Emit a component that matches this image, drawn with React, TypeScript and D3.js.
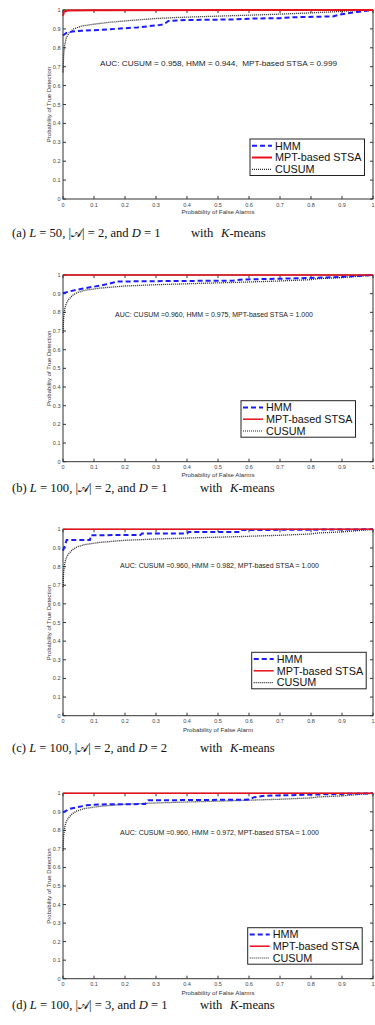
import React from 'react';
import * as d3 from 'd3';

// tick values shared by all four panels
const xTicks = [0, 0.1, 0.2, 0.3, 0.4, 0.5, 0.6, 0.7, 0.8, 0.9, 1];
const yTicks = [0, 0.1, 0.2, 0.3, 0.4, 0.5, 0.6, 0.7, 0.8, 0.9, 1];
const tickLabels = ['0', '0.1', '0.2', '0.3', '0.4', '0.5', '0.6', '0.7', '0.8', '0.9', '1'];

const seriesNames = ['HMM', 'MPT-based STSA', 'CUSUM'];

// (a) L = 50
const mptA = [[0, 0.97], [0.003, 0.99], [0.015, 0.997], [0.1, 0.999], [1, 1]];
const hmmA = [[0, 0.865], [0.01, 0.878], [0.03, 0.886], [0.06, 0.89], [0.12, 0.895], [0.24, 0.908], [0.31, 0.92], [0.325, 0.924], [0.34, 0.942], [0.4, 0.947], [0.55, 0.95], [0.62, 0.955], [0.7, 0.957], [0.75, 0.962], [0.87, 0.966], [0.9, 0.978], [0.95, 0.99], [1, 1]];
const cusumA = [[0, 0.67], [0.002, 0.76], [0.005, 0.81], [0.01, 0.85], [0.02, 0.88], [0.035, 0.9], [0.06, 0.915], [0.1, 0.925], [0.15, 0.935], [0.22, 0.945], [0.3, 0.955], [0.36, 0.96], [0.45, 0.965], [0.55, 0.97], [0.7, 0.978], [0.8, 0.985], [0.87, 0.99], [0.93, 0.996], [1, 1]];

// (b)-(d) L = 100, same CUSUM curve
const mptFlat = [[0, 1], [1, 1]];
const cusum100 = [[0, 0.69], [0.002, 0.77], [0.006, 0.82], [0.01, 0.845], [0.017, 0.866], [0.03, 0.89], [0.045, 0.905], [0.07, 0.918], [0.12, 0.93], [0.2, 0.941], [0.3, 0.948], [0.44, 0.955], [0.55, 0.96], [0.7, 0.968], [0.8, 0.975], [0.82, 0.98], [0.9, 0.986], [1, 1]];
const hmmB = [[0, 0.902], [0.02, 0.912], [0.065, 0.928], [0.12, 0.943], [0.16, 0.958], [0.17, 0.965], [0.3, 0.967], [0.55, 0.97], [0.58, 0.976], [0.75, 0.982], [0.85, 0.987], [0.92, 0.992], [1, 1]];
const hmmC = [[0, 0.885], [0.012, 0.943], [0.087, 0.943], [0.09, 0.968], [0.25, 0.97], [0.255, 0.978], [0.4, 0.978], [0.405, 0.986], [0.57, 0.986], [0.575, 0.996], [0.7, 0.997], [1, 1]];
const hmmD = [[0, 0.897], [0.023, 0.917], [0.076, 0.935], [0.12, 0.94], [0.265, 0.942], [0.275, 0.962], [0.6, 0.966], [0.615, 0.978], [0.65, 0.987], [0.74, 0.99], [0.85, 0.995], [1, 1]];

const aucTexts = [
  'AUC: CUSUM = 0.958, HMM = 0.944,  MPT-based STSA = 0.999',
  'AUC: CUSUM =0.960, HMM = 0.975, MPT-based STSA = 1.000',
  'AUC: CUSUM =0.960, HMM = 0.982, MPT-based STSA = 1.000',
  'AUC: CUSUM =0.960, HMM = 0.972, MPT-based STSA = 1.000',
];
const xLabels = ['Probability of False Alarms', 'Probability of False Alarms', 'Probability of False Alarm', 'Probability of False Alarms'];
const captionIds = ['(a)', '(b)', '(c)', '(d)'];
const captionL = ['50', '100', '100', '100'];
const captionA = ['2', '2', '2', '3'];
const captionD = ['1', '1', '2', '1'];

const panels = [
  { top: 10, bottom: 199, hmm: hmmA, mpt: mptA, cusum: cusumA, redW: 2, auc: [100, 64, 237], leg: [250, 139], cap: 237, xl: 213.5 },
  { top: 275, bottom: 461.7, hmm: hmmB, mpt: mptFlat, cusum: cusum100, redW: 1.5, auc: [115, 314.5, 198], leg: [241, 400.7], cap: 491.5, xl: 477 },
  { top: 529.3, bottom: 715.7, hmm: hmmC, mpt: mptFlat, cusum: cusum100, redW: 1.5, auc: [120, 566, 199], leg: [251.7, 652.3], cap: 751.5, xl: 731.5 },
  { top: 793.3, bottom: 978.7, hmm: hmmD, mpt: mptFlat, cusum: cusum100, redW: 1.5, auc: [120, 833, 199], leg: [247.7, 927.7], cap: 1009, xl: 995 },
];

const sans = '"Liberation Sans", Arial, sans-serif';
const serif = '"Liberation Serif", "Times New Roman", serif';
const axisColor = '#333';

const Caption = ({ i, yPos }) => {
  const s = captionL[i].length > 2 ? 9 : 0; // wider L value pushes "with K-means" right
  return (
    <text x={12} y={yPos} fontSize={12.6} fontFamily={serif} fill="#111" style={{ whiteSpace: 'pre' }}>
      <tspan>{captionIds[i] + ' '}</tspan>
      <tspan fontStyle="italic">L</tspan>
      <tspan>{' = ' + captionL[i] + ', |'}</tspan>
      <tspan fontFamily='"DejaVu Serif", serif' fontSize={11.5}>𝒜</tspan>
      <tspan>{'| = ' + captionA[i] + ', and '}</tspan>
      <tspan fontStyle="italic">D</tspan>
      <tspan>{' = ' + captionD[i]}</tspan>
      <tspan x={191 + s}>with</tspan>
      <tspan x={221 + s} fontStyle="italic">K</tspan>
      <tspan>-means</tspan>
    </text>
  );
};

const Panel = ({ p, i }) => {
  const x = d3.scaleLinear().domain([0, 1]).range([63, 373]);
  const y = d3.scaleLinear().domain([0, 1]).range([p.bottom, p.top]);
  const line = d3.line().x(d => x(d[0])).y(d => y(d[1]));
  const [lx, ly] = p.leg;

  return (
    <g>
      {/* box */}
      <rect x={x(0)} y={y(1)} width={x(1) - x(0)} height={y(0) - y(1)} fill="none" stroke={axisColor} strokeWidth={1} />
      {xTicks.map((t, k) => (
        <g key={'x' + k}>
          <line x1={x(t)} x2={x(t)} y1={y(0)} y2={y(0) - 3} stroke={axisColor} />
          <line x1={x(t)} x2={x(t)} y1={y(1)} y2={y(1) + 3} stroke={axisColor} />
          <text x={x(t)} y={y(0) + 7.5} fontSize={5.5} fontFamily={sans} fill="#444" textAnchor="middle">{tickLabels[k]}</text>
        </g>
      ))}
      {yTicks.map((t, k) => (
        <g key={'y' + k}>
          <line x1={x(0)} x2={x(0) + 3} y1={y(t)} y2={y(t)} stroke={axisColor} />
          <line x1={x(1)} x2={x(1) - 3} y1={y(t)} y2={y(t)} stroke={axisColor} />
          <text x={x(0) - 2.5} y={y(t) + 2} fontSize={5.5} fontFamily={sans} fill="#444" textAnchor="end">{tickLabels[k]}</text>
        </g>
      ))}
      <text x={(x(0) + x(1)) / 2} y={p.xl} fontSize={6.2} fontFamily={sans} fill="#333" textAnchor="middle">{xLabels[i]}</text>
      <text transform={`translate(51,${(y(0) + y(1)) / 2}) rotate(-90)`} fontSize={6} fontFamily={sans} fill="#333" textAnchor="middle">Probability of True Detection</text>

      {/* curves */}
      <path d={line(p.cusum)} fill="none" stroke="#222" strokeWidth={1.3} strokeDasharray="1,1" />
      <path d={line(p.hmm)} fill="none" stroke="#1a1aff" strokeWidth={2} strokeDasharray="5,3" />
      <path d={line(p.mpt)} fill="none" stroke="#e8101a" strokeWidth={p.redW} />

      <text x={p.auc[0]} y={p.auc[1] + 2.3} fontSize={7} fontFamily={sans} fill="#222" textLength={p.auc[2]} lengthAdjust="spacingAndGlyphs" style={{ whiteSpace: 'pre' }}>{aucTexts[i]}</text>

      {/* legend */}
      <rect x={lx} y={ly} width={114.5} height={36.5} fill="white" stroke="#222" strokeWidth={1} />
      {seriesNames.map((name, k) => {
        const ry = ly + 6.7 + k * 11.8;
        const stroke = k === 0 ? '#1a1aff' : k === 1 ? '#e8101a' : '#222';
        const dash = k === 0 ? '5,3' : k === 2 ? '1,1' : undefined;
        const w = k === 0 ? 2 : k === 1 ? p.redW : 1.2;
        return (
          <g key={name}>
            <line x1={lx + 2} x2={lx + 22} y1={ry} y2={ry} stroke={stroke} strokeWidth={w} strokeDasharray={dash} />
            <text x={lx + 25} y={ry + 3.8} fontSize={10.8} fontFamily={sans} fill="#111">{name}</text>
          </g>
        );
      })}

      <Caption i={i} yPos={p.cap} />
    </g>
  );
};

export default function App() {
  return (
    <svg width={375} height={1025} style={{ position: 'absolute', left: 0, top: 0, background: 'white' }}>
      <rect width={375} height={1025} fill="white" />
      {panels.map((p, i) => <Panel key={i} p={p} i={i} />)}
    </svg>
  );
}
